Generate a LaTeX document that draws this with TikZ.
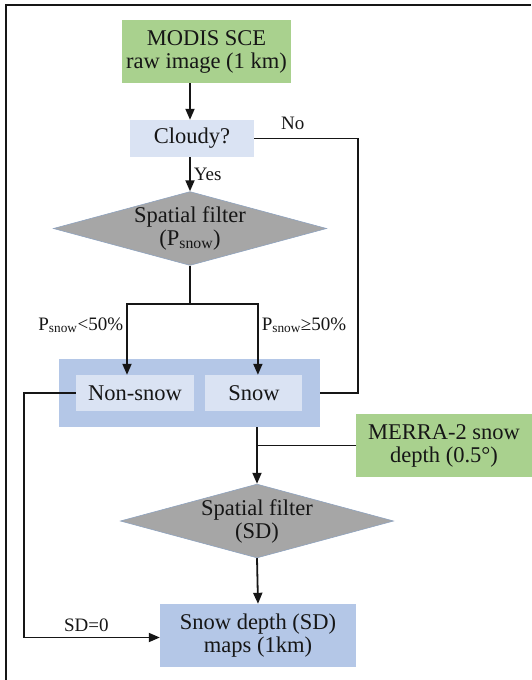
\documentclass[tikz,border=0pt]{standalone}
\usepackage{fontspec}
\setmainfont{Liberation Serif}
\usepackage{tikz}
\usetikzlibrary{positioning,arrows.meta,calc,fit,backgrounds,shapes.geometric}
\definecolor{sgrn}{HTML}{A9D18E}
\definecolor{sblu}{HTML}{DAE3F3}
\definecolor{smid}{HTML}{B4C7E7}
\definecolor{sgry}{HTML}{A6A6A6}
\definecolor{sedg}{HTML}{8FA3BF}
\definecolor{sink}{HTML}{161616}
\tikzset{
  box/.style ={inner sep=0pt, align=center, text=sink, font=\fontsize{22.5}{23}\selectfont},
  gbox/.style={box, fill=sgrn},
  lbox/.style={box, fill=sblu},
  mbox/.style={box, fill=smid},
  dia/.style ={box, diamond, fill=sgry, draw=sedg, line width=0.6pt, aspect=3.7},
  note/.style={text=sink, font=\fontsize{19}{20}\selectfont, inner sep=3pt},
  link/.style={draw=sink, line width=1.8pt},
  flow/.style={link, -{Triangle[length=11pt,width=9pt]}},
}
\begin{document}
\begin{tikzpicture}[x=1pt,y=-1pt]
  \useasboundingbox (0,0) rectangle (531,680);
  \draw[sink, line width=1.2pt] (6,680) -- (6,5) -- (531,5);
  % input and cloud test
  \node[gbox, minimum width=169pt, minimum height=63pt] (modis) at (206.5,51.5) {MODIS SCE\\raw image (1 km)};
  \node[lbox, minimum width=124pt, minimum height=37pt] (cloudy) at (192,138.5) {Cloudy?};
  \node[dia, minimum width=270pt, minimum height=73pt] (filt1) at (190,228.5) {Spatial filter\\(P\textsubscript{snow})};
  % classes
  \node[lbox, minimum width=118pt, minimum height=36pt] (nonsnow) at (135,393) {Non-snow};
  \node[lbox, minimum width=97pt, minimum height=36pt, right=11pt of nonsnow] (snow) {Snow};
  \begin{scope}[on background layer]
    \node[fill=smid, inner xsep=17pt, inner ysep=16pt, fit=(nonsnow)(snow)] (cls) {};
  \end{scope}
  % depth
  \node[gbox, minimum width=176pt, minimum height=63pt] (merra) at (444,445.5) {MERRA-2 snow\\depth (0.5°)};
  \node[dia, minimum width=273pt, minimum height=72pt] (filt2) at (257,521) {Spatial filter\\(SD)};
  \node[mbox, minimum width=196pt, minimum height=63pt] (sdmap) at (258,635.5) {Snow depth (SD)\\maps (1km)};

  % flows
  \draw[flow] (modis.south -| filt1) -- (cloudy.north -| filt1);
  \draw[flow] (cloudy.south -| filt1) -- node[note,right]{Yes} (filt1.north);
  \draw[link] (cloudy.east) -- node[note,above=5pt,pos=0.37]{No} ++(104,0) |- (cls.east);
  \draw[link] (filt1.south) -- ++(0,38) coordinate (split);
  \draw[flow] (split) -| node[note,left,pos=0.65]{P\textsubscript{snow}<50\%} ([xshift=-8pt]nonsnow.north);
  \draw[flow] (split) -| node[note,right,pos=0.65]{P\textsubscript{snow}≥50\%} ([xshift=4pt]snow.north);
  \draw[flow] (nonsnow.west) -- ++(-52,0) |- node[note,above=2pt,pos=0.73]{SD=0} ([yshift=-2pt]sdmap.west);
  \draw[flow] (cls.south -| filt2.north) -- (filt2.north);
  \draw[link] (merra.west) -- (merra.west -| filt2.north);
  \draw[flow] (filt2.south) -- (sdmap.north);
\end{tikzpicture}
\end{document}
